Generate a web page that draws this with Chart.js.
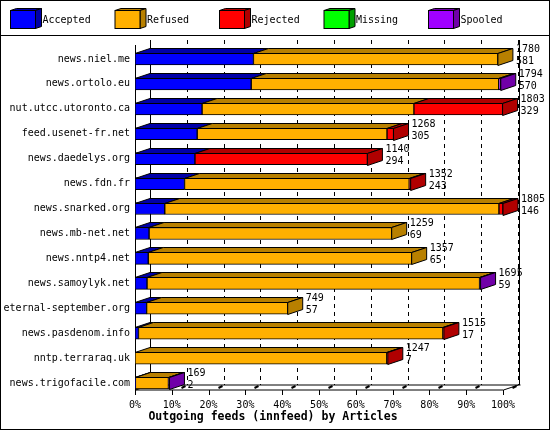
<!DOCTYPE html>
<html><head><meta charset="utf-8">
<script src="https://cdn.jsdelivr.net/npm/chart.js@4/dist/chart.umd.min.js"></script>
<style>html,body{margin:0;padding:0;background:#fff}canvas{display:block}</style>
</head><body>
<div style="width:550px;height:430px"><canvas id="c"></canvas></div>
<script>
/* innfeed outgoing feeds, 3D stacked bars */
const feeds = ['news.niel.me','news.ortolo.eu','nut.utcc.utoronto.ca','feed.usenet-fr.net','news.daedelys.org','news.fdn.fr','news.snarked.org','news.mb-net.net','news.nntp4.net','news.samoylyk.net','eternal-september.org','news.pasdenom.info','nntp.terraraq.uk','news.trigofacile.com'];
const totals   = [1780,1794,1803,1268,1140,1352,1805,1259,1357,1695,749,1515,1247,169];
const accepted = [581,570,329,305,294,243,146,69,65,59,57,17,0,2];
const refused  = [1199,1214,1039,931,0,1102,1639,1190,1292,1631,692,1493,1235,162];
const rejected = [0,0,435,32,846,7,20,0,0,0,0,5,5,0];
const missing  = [0,0,0,0,0,0,0,0,0,0,0,0,0,0];
const spooled  = [0,10,0,0,0,0,0,0,0,5,0,0,0,5];
const shown    = [581,570,329,305,294,243,146,69,65,59,57,17,7,2]; // second label line
const xTicks = ['0%','10%','20%','30%','40%','50%','60%','70%','80%','90%','100%'];
const maxVal = 1805;

const series = [
  {label:'Accepted', data:accepted, c:'#0000ff', d:'#0000a8'},
  {label:'Refused',  data:refused,  c:'#ffb000', d:'#b88000'},
  {label:'Rejected', data:rejected, c:'#ff0000', d:'#b00000'},
  {label:'Missing',  data:missing,  c:'#00ff00', d:'#00a000'},
  {label:'Spooled',  data:spooled,  c:'#a000ff', d:'#7000a8'}
];
const DX=15, DY=5, FONT='10px "DejaVu Sans Mono"';

function poly(ctx,pts,fill){
  ctx.beginPath(); ctx.moveTo(pts[0][0],pts[0][1]);
  pts.slice(1).forEach(p=>ctx.lineTo(p[0],p[1])); ctx.closePath();
  ctx.fillStyle=fill; ctx.fill(); ctx.stroke();
}

const frame = {
  id:'frame',
  beforeDatasetsDraw(chart){
    const ctx=chart.ctx, x=chart.scales.x, a=chart.chartArea;
    ctx.save(); ctx.strokeStyle='#000'; ctx.lineWidth=1;
    // back grid
    ctx.setLineDash([4,4]);
    for(let i=1;i<=10;i++){ const px=Math.round(x.getPixelForValue(maxVal*i/10))+DX+0.5;
      ctx.beginPath(); ctx.moveTo(px,40); ctx.lineTo(px,385); ctx.stroke(); }
    ctx.setLineDash([]);
    const l=Math.round(a.left)+0.5, r=Math.round(a.right)+0.5;
    ctx.beginPath(); ctx.moveTo(l+DX,40); ctx.lineTo(l+DX,385); ctx.lineTo(r+DX+2,385);
    ctx.moveTo(r+DX+1,40); ctx.lineTo(r+DX+1,385);
    ctx.moveTo(l,45); ctx.lineTo(l,390); ctx.lineTo(r,390); ctx.lineTo(r+DX,385);
    ctx.moveTo(l,390); ctx.lineTo(l+DX,385);
    ctx.stroke();
    for(let i=0;i<=10;i++){ const px=Math.round(x.getPixelForValue(maxVal*i/10))+0.5;
      ctx.beginPath(); ctx.moveTo(px,390); ctx.lineTo(px,395); ctx.stroke();
      if(i>0){ ctx.lineWidth=2; ctx.beginPath(); ctx.moveTo(px+9,388); ctx.lineTo(px+13,386); ctx.stroke(); ctx.lineWidth=1; } }
    ctx.restore();
  },
  afterDatasetsDraw(chart){
    const ctx=chart.ctx, x=chart.scales.x, y=chart.scales.y;
    ctx.save(); ctx.strokeStyle='#000'; ctx.lineWidth=1;
    feeds.forEach((f,i)=>{
      const yc=y.getPixelForValue(i), y0=Math.round(yc-6)+0.5, y1=y0+12;
      let acc=0, last=null, end=x.getPixelForValue(0);
      series.forEach(s=>{
        const v=s.data[i]; if(!v) return;
        const x0=x.getPixelForValue(acc), x1=x.getPixelForValue(acc+v); acc+=v;
        poly(ctx,[[x0,y0],[x0+DX,y0-DY],[x1+DX,y0-DY],[x1,y0]],s.d);
        last=s; end=x1;
      });
      if(last) poly(ctx,[[end,y0],[end+DX,y0-DY],[end+DX,y1-DY],[end,y1]],last.d);
      ctx.fillStyle='#000'; ctx.font=FONT; ctx.textAlign='left'; ctx.textBaseline='middle';
      ctx.fillText(String(totals[i]),end+DX+3,y0-4);
      ctx.fillText(String(shown[i]),end+DX+3,y0+8);
      ctx.textAlign='right';
      ctx.fillText(f,130,yc);
    });
    // legend
    ctx.textAlign='left';
    series.forEach((s,k)=>{
      const lx=10+k*104.5+0.5, ly=10.5;
      poly(ctx,[[lx,ly],[lx+6,ly-2],[lx+31,ly-2],[lx+25,ly]],s.d);
      poly(ctx,[[lx+25,ly],[lx+31,ly-2],[lx+31,ly+16],[lx+25,ly+18]],s.d);
      ctx.fillStyle=s.c; ctx.fillRect(lx,ly,25,18); ctx.strokeRect(lx,ly,25,18);
      ctx.fillStyle='#000'; ctx.fillText(s.label,lx+32,ly+10);
    });
    ctx.beginPath(); ctx.moveTo(0,35.5); ctx.lineTo(550,35.5); ctx.stroke();
    ctx.strokeRect(0.5,0.5,549,429);
    ctx.font='bold 11.5px "DejaVu Sans Mono"'; ctx.textAlign='center';
    ctx.fillText('Outgoing feeds (innfeed) by Articles',273,417);
    ctx.restore();
  }
};

new Chart(document.getElementById('c'),{
  type:'bar',
  data:{ labels:feeds, datasets:series.map(s=>({label:s.label,data:s.data,backgroundColor:s.c,borderColor:'#000',borderWidth:1,borderSkipped:false,barThickness:12})) },
  options:{
    indexAxis:'y', responsive:true, maintainAspectRatio:false, animation:false,
    layout:{padding:{left:135,right:47,top:46.5,bottom:0.5}},
    plugins:{legend:{display:false},tooltip:{enabled:false}},
    scales:{
      x:{stacked:true,min:0,max:maxVal,grid:{display:false},border:{display:false},
         afterBuildTicks(s){ s.ticks=xTicks.map((t,i)=>({value:maxVal*i/10})); },
         afterFit(s){ s.height=34; },
         ticks:{padding:-4,color:'#000',font:{family:'DejaVu Sans Mono',size:10},maxRotation:0,autoSkip:false,
                callback:(v,i)=>xTicks[i]}},
      y:{stacked:true,display:false}
    }
  },
  plugins:[frame]
});
</script>
</body></html>
